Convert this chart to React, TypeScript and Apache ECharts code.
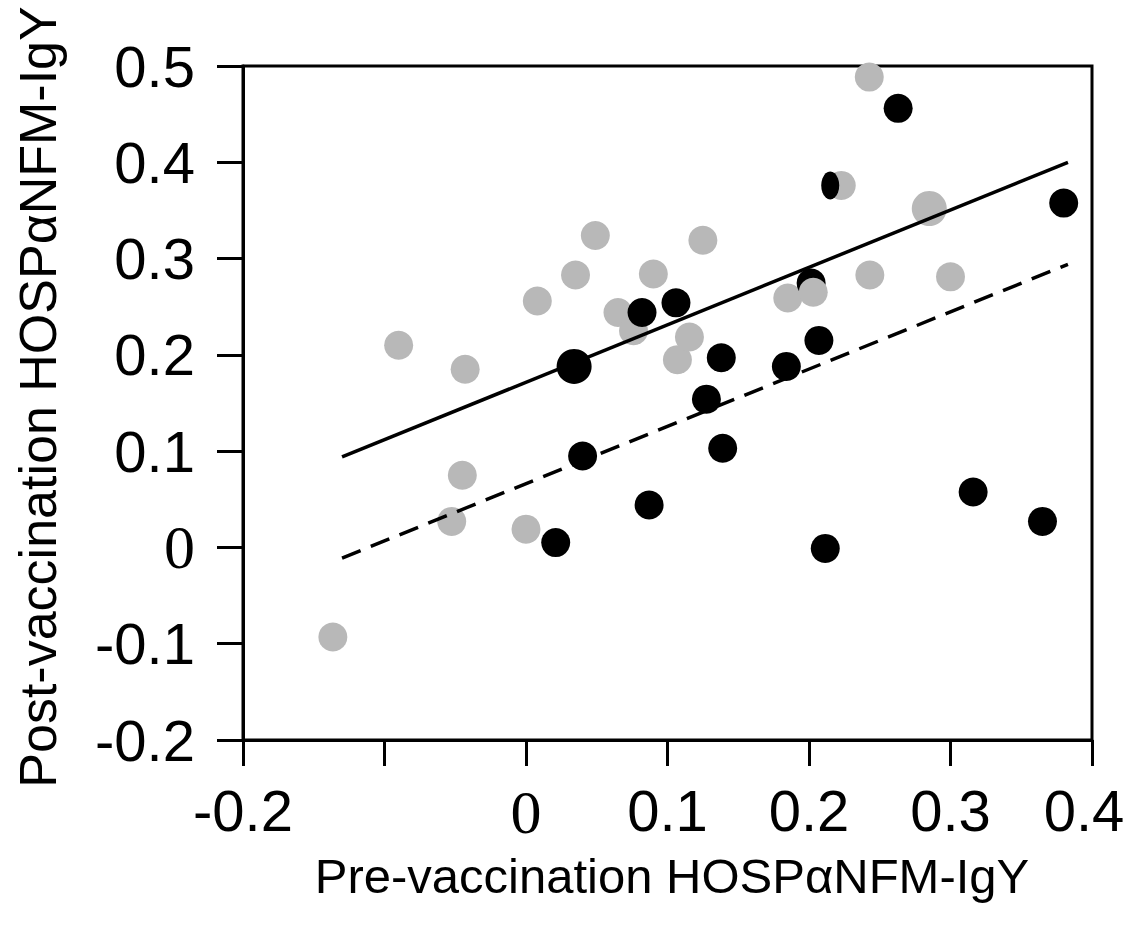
import React, { useEffect, useRef } from "react";
import * as echarts from "echarts";

// Light-grey group (drawn first)
const grayPoints: [number, number][] = [
  [-0.1365, -0.093], [-0.09, 0.21], [-0.043, 0.185], [-0.045, 0.075], [-0.0525, 0.027],
  [0.0, 0.019], [0.008, 0.256], [0.035, 0.283], [0.049, 0.324], [0.065, 0.244],
  [0.076, 0.225], [0.09, 0.284], [0.107, 0.195], [0.1155, 0.2185], [0.125, 0.319],
  [0.185, 0.259], [0.2228, 0.376], [0.243, 0.283], [0.2426, 0.4885], [0.3, 0.281],
];
const grayLargePoints: [number, number][] = [[0.285, 0.352]];
const grayFrontPoints: [number, number][] = [[0.203, 0.265]];

// Black group
const blackBackPoints: [number, number][] = [[0.2015, 0.2745]];
const blackPoints: [number, number][] = [
  [0.04, 0.095], [0.021, 0.005], [0.087, 0.044], [0.082, 0.244], [0.106, 0.254],
  [0.138, 0.197], [0.1275, 0.154], [0.139, 0.103], [0.184, 0.188], [0.207, 0.215],
  [0.2115, -0.001], [0.316, 0.0575], [0.365, 0.027], [0.263, 0.456], [0.38, 0.3576],
];
const blackLargePoints: [number, number][] = [[0.034, 0.188]];
const blackNarrowPoints: [number, number][] = [[0.215, 0.376]];

// Regression lines
const regX = [-0.13, 0.383];
const solidY = [0.094, 0.4];
const dashedY = [-0.011, 0.294];

const xHiddenTicks = [-0.1];
const xEdgeTick = 0.4;
const xTitle = "Pre-vaccination HOSPαNFM-IgY";
const yTitle = "Post-vaccination HOSPαNFM-IgY";

const SANS = "'Liberation Sans', Arial, Helvetica, sans-serif";
const SERIF = "'Liberation Serif', 'Times New Roman', serif";
const GRAY = "#b8b8b8";

function fmt(v: number, hidden: number[], edge?: number) {
  if (hidden.some((h) => Math.abs(h - v) < 1e-6)) return "";
  if (Math.abs(v) < 1e-6) return "{z|0}";
  if (edge !== undefined && Math.abs(v - edge) < 1e-6) return "{e|" + v.toFixed(1) + "}";
  return v.toFixed(1);
}

export default function App() {
  const ref = useRef<HTMLDivElement>(null);
  useEffect(() => {
    document.body.style.margin = "0";
    const chart = echarts.init(ref.current!, undefined, { renderer: "svg" });
    const scatter = (name: string, data: [number, number][], color: string, size: any, z: number) => ({
      name,
      type: "scatter",
      data,
      symbol: "circle",
      symbolSize: size,
      itemStyle: { color, opacity: 1 },
      z,
      silent: true,
    });
    const toLine = (ys: number[]) => regX.map((x, i) => [x, ys[i]]);
    const option: any = {
      animation: false,
      grid: {
        left: 243,
        top: 66,
        right: 38,
        bottom: 191,
        show: true,
        borderColor: "#000",
        borderWidth: 3,
        backgroundColor: "transparent",
        containLabel: false,
        outerBoundsMode: "none",
      },
      xAxis: {
        type: "value",
        min: -0.2,
        max: 0.4,
        interval: 0.1,
        splitLine: { show: false },
        axisLine: { show: true, onZero: false, lineStyle: { color: "#000", width: 3 } },
        axisTick: { show: true, length: 26, lineStyle: { color: "#000", width: 3 } },
        axisLabel: {
          color: "#000",
          fontFamily: SANS,
          fontSize: 58,
          margin: 41,
          hideOverlap: false,
          formatter: (v: number) => fmt(v, xHiddenTicks, xEdgeTick),
          rich: {
            z: { fontFamily: SERIF, fontSize: 62, color: "#000" },
            e: { fontFamily: SANS, fontSize: 58, color: "#000", padding: [0, 16, 0, 0] },
          },
        },
      },
      yAxis: {
        type: "value",
        min: -0.2,
        max: 0.5,
        interval: 0.1,
        splitLine: { show: false },
        axisLine: { show: true, onZero: false, lineStyle: { color: "#000", width: 3 } },
        axisTick: { show: true, length: 26, lineStyle: { color: "#000", width: 3 } },
        axisLabel: {
          color: "#000",
          fontFamily: SANS,
          fontSize: 58,
          margin: 48,
          hideOverlap: false,
          formatter: (v: number) => fmt(v, []),
          rich: { z: { fontFamily: SERIF, fontSize: 62, color: "#000" } },
        },
      },
      graphic: [
        {
          type: "text",
          x: 672,
          y: 876,
          style: {
            text: xTitle,
            fontFamily: SANS,
            fontSize: 49,
            fill: "#000",
            align: "center",
            verticalAlign: "middle",
          },
        },
        {
          type: "text",
          x: 38,
          y: 397,
          rotation: Math.PI / 2,
          style: {
            text: yTitle,
            fontFamily: SANS,
            fontSize: 52,
            fill: "#000",
            align: "center",
            verticalAlign: "middle",
          },
        },
      ],
      series: [
        scatter("gray", grayPoints, GRAY, 29, 2),
        scatter("blackBack", blackBackPoints, "#000", 29, 3),
        scatter("grayLarge", grayLargePoints, GRAY, 35, 4),
        scatter("grayFront", grayFrontPoints, GRAY, 29, 5),
        scatter("black", blackPoints, "#000", 29, 6),
        scatter("blackLarge", blackLargePoints, "#000", 35, 7),
        scatter("blackNarrow", blackNarrowPoints, "#000", [18, 28], 8),
        {
          name: "solidFit",
          type: "line",
          data: toLine(solidY),
          symbol: "none",
          lineStyle: { color: "#000", width: 3.5, type: "solid" },
          z: 9,
          silent: true,
        },
        {
          name: "dashedFit",
          type: "line",
          data: toLine(dashedY),
          symbol: "none",
          lineStyle: { color: "#000", width: 3.5, type: [20, 11] },
          z: 9,
          silent: true,
        },
      ],
    };
    chart.setOption(option);
    return () => chart.dispose();
  }, []);
  return <div ref={ref} style={{ width: 1130, height: 931 }} />;
}
